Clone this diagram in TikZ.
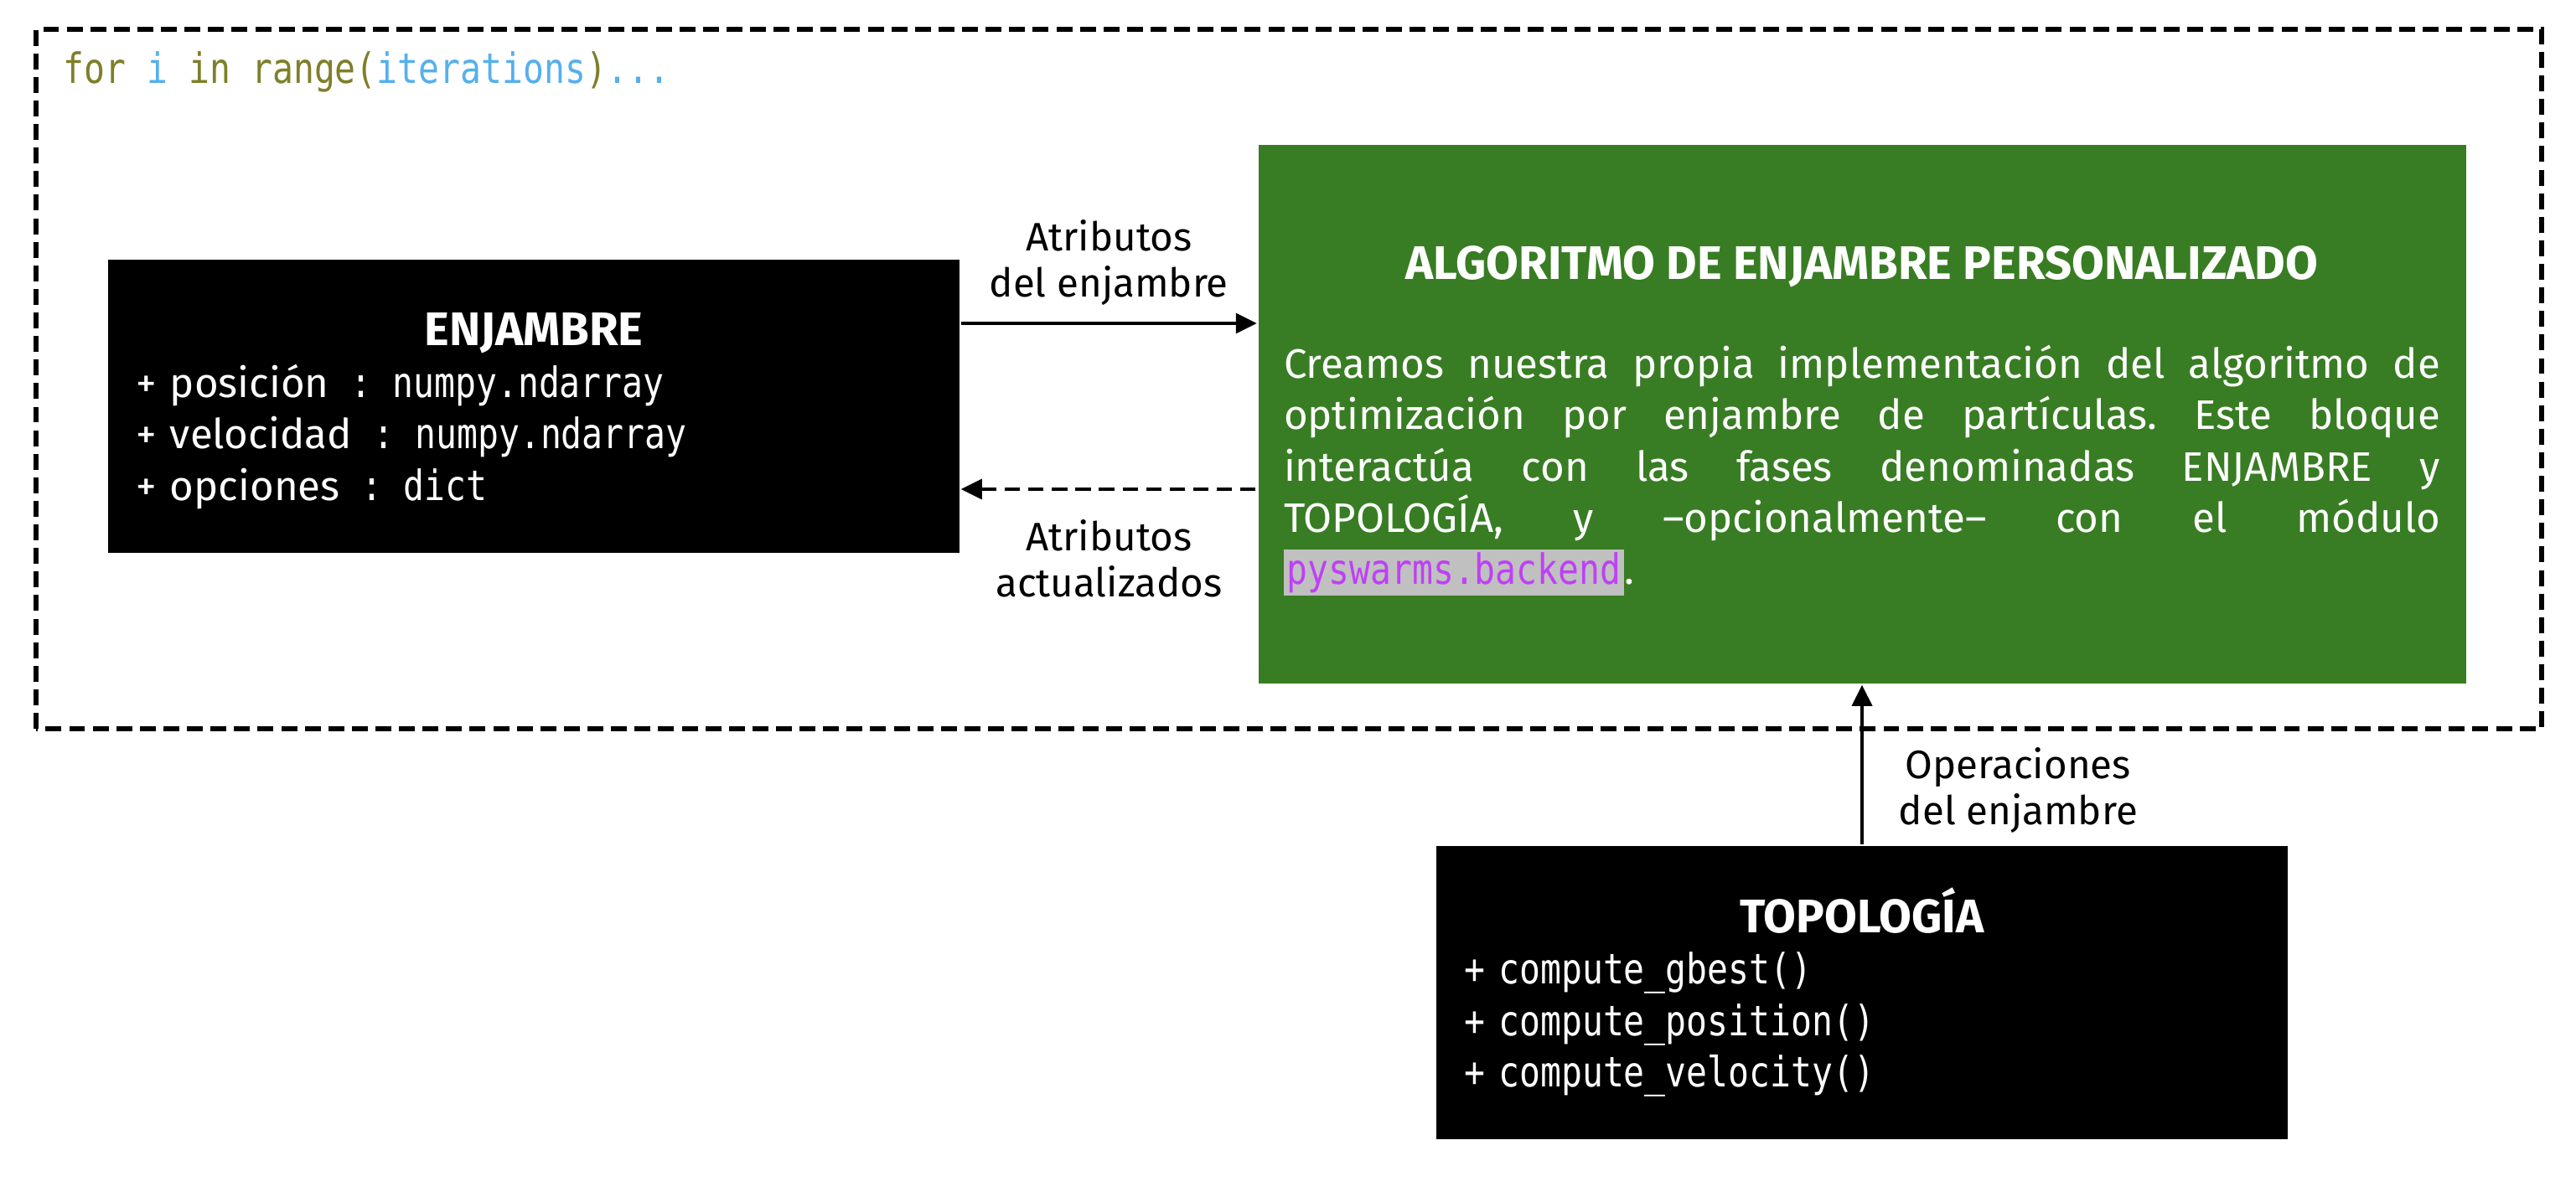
\documentclass[tikz,border=0pt]{standalone}
\usepackage{fontspec}
\setmainfont{Fira Sans}
\newfontfamily\codigo{DejaVu Sans Mono}[FakeStretch=0.83]
\usetikzlibrary{positioning,arrows.meta}
\definecolor{verde}{HTML}{387D23}
\definecolor{oliva}{HTML}{7F7F2A}
\definecolor{celeste}{HTML}{55B0EC}
\definecolor{morado}{HTML}{BF40F5}
\definecolor{grisclaro}{HTML}{C0C0C0}
\newcommand{\cod}[1]{{\codigo\fontsize{14.2}{17.5}\selectfont #1}}
\newcommand{\titulo}[2][0pt]{\makebox[\hsize]{\rule{0pt}{#1}\fontsize{16}{17.5}\selectfont\bfseries #2}}
\frenchspacing

\begin{document}
\begin{tikzpicture}[>={Triangle[length=2.5mm,width=2.4mm]}, line width=1pt,
      clase/.style={fill=black, text=white, inner sep=0.32cm, text width=9.5cm,
                    minimum width=10.16cm, minimum height=3.5cm, align=left,
                    font=\fontsize{14}{17.5}\selectfont},
      bloque/.style={fill=verde, text=white, inner sep=0.3cm, text width=13.8cm,
                     minimum width=14.41cm, minimum height=6.43cm, align=justify,
                     font=\fontsize{14}{17.5}\selectfont},
      etiq/.style={inner sep=0pt, align=center, font=\fontsize{13.5}{15.6}\selectfont},
      marco/.style={line width=1.6pt, dash pattern=on 5.4pt off 2.6pt}]
    \path[fill=white, use as bounding box] (0,0) rectangle (30.74,14.28);
    \draw[marco] (0.43,5.58) rectangle (30.33,13.93);
    \node[anchor=base west, inner sep=0pt] (bucle) at (0.74,13.28)
      {\codigo\fontsize{14.2}{17}\selectfont\color{oliva}for \color{celeste}i
       \color{oliva}in range(\color{celeste}iterations\color{oliva})\color{celeste}...};
    \node[clase] (enj) at (6.37,9.43)
      {\titulo[5mm]{ENJAMBRE}\\
       + posición\cod{\hspace{0.9mm}~:~\hspace{0.9mm}numpy.ndarray}\\
       + velocidad\cod{\hspace{0.9mm}~:~\hspace{0.9mm}numpy.ndarray}\\
       + opciones\cod{\hspace{0.9mm}~:~\hspace{0.9mm}dict}};
    \node[bloque, right=3.53cm of enj, yshift=-0.95mm] (alg)
      {\titulo[5.6mm]{ALGORITMO DE ENJAMBRE PERSONALIZADO}\\[5.6mm]
       Creamos nuestra propia implementación del algoritmo de\linebreak
       optimización por enjambre de partículas. Este bloque\linebreak
       interactúa con las fases denominadas ENJAMBRE y\linebreak
       TOPOLOGÍA, y –opcionalmente– con el módulo\linebreak
       {\setlength{\fboxsep}{1pt}\colorbox{grisclaro}{\color{morado}\cod{pyswarms.backend}}}.};
    \node[clase, below=1.9cm of alg] (topo)
      {\titulo{TOPOLOGÍA}\\
       \cod{+ compute\textunderscore gbest()}\\
       \cod{+ compute\textunderscore position()}\\
       \cod{+ compute\textunderscore velocity()}};
    \draw[->] ([yshift=9.9mm]enj.east) -- node[etiq, above=2mm]{Atributos\\del enjambre}
      ([yshift=9.9mm]enj.east -| alg.west);
    \draw[<-, dashed, dash pattern=on 5.2pt off 2.8pt] ([yshift=-9.9mm]enj.east)
      -- node[etiq, below=3.5mm]{Atributos\\actualizados} ([yshift=-9.9mm]enj.east -| alg.west);
    \draw[->] (topo.north) -- node[etiq, pos=0.34, right=4.2mm]{Operaciones\\del enjambre}
      (topo.north |- alg.south);
  \end{tikzpicture}
\end{document}
